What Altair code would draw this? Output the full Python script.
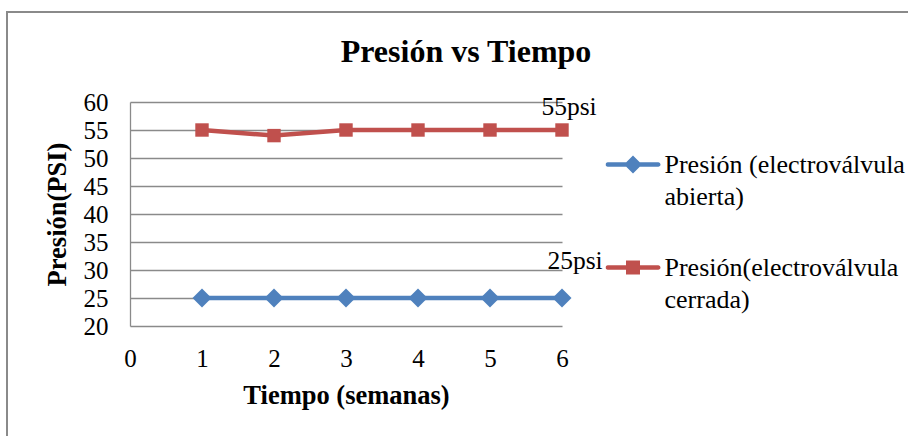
import altair as alt
import pandas as pd

# Datos de presión medidos cada semana
semanas = [1, 2, 3, 4, 5, 6]
presion_abierta = [25, 25, 25, 25, 25, 25]
presion_cerrada = [55, 54, 55, 55, 55, 55]
series = ["Presión (electroválvula abierta)", "Presión(electroválvula cerrada)"]
colores = ["#4F81BD", "#C0504D"]
etiquetas = ["25psi", "55psi"]
y_ticks = [20, 25, 30, 35, 40, 45, 50, 55, 60]
x_ticks = [0, 1, 2, 3, 4, 5, 6]

FUENTE = "Liberation Serif"
GRIS = "#8a8a8a"

datos = pd.DataFrame({
    "semana": semanas * 2,
    "presion": presion_abierta + presion_cerrada,
    "serie": [series[0]] * len(semanas) + [series[1]] * len(semanas),
})
ultimos = pd.DataFrame({
    "semana": [semanas[-1], semanas[-1]],
    "presion": [presion_abierta[-1], presion_cerrada[-1]],
    "texto": etiquetas,
    "serie": series,
})
marco = pd.DataFrame({"marco": [0]})

# Símbolos de la leyenda: trazo horizontal con su marcador en el centro
R = 27.5  # medio ancho del símbolo en px (symbolSize = (2R)^2)


def u(px):
    return round(px / R, 4)


t = u(2.3)
trazo = (f"M{-1 + t},{-t} L{1 - t},{-t} A{t},{t} 0 0 1 {1 - t},{t} "
         f"L{-1 + t},{t} A{t},{t} 0 0 1 {-1 + t},{-t} Z")
d = u(9)
s = u(7)
simbolo_rombo = trazo + f" M0,{-d} L{d},0 L0,{d} L{-d},0 Z"
simbolo_cuadro = trazo + f" M{-s},{-s} L{s},{-s} L{s},{s} L{-s},{s} Z"

x_enc = alt.X(
    "semana:Q",
    scale=alt.Scale(domain=[0, 6], nice=False, zero=False),
    axis=alt.Axis(
        values=x_ticks, format="d", grid=False, domain=False, ticks=False, tickSize=0,
        labelFont=FUENTE, labelFontSize=25, labelColor="black",
        labelPadding=20, labelFlush=False, labelOverlap=False,
        title="Tiempo (semanas)", titleFont=FUENTE, titleFontSize=26.5,
        titleFontWeight="bold", titleColor="black",
        titleBaseline="alphabetic", titleY=77, titleX=216, titleAlign="center",
    ),
)
y_enc = alt.Y(
    "presion:Q",
    scale=alt.Scale(domain=[20, 60], nice=False, zero=False),
    axis=alt.Axis(
        values=y_ticks, format="d", grid=True, gridColor=GRIS, gridWidth=1.3,
        domain=True, domainColor=GRIS, domainWidth=1.3,
        ticks=False, tickSize=0, labelOverlap=False,
        labelFont=FUENTE, labelFontSize=25, labelColor="black", labelPadding=22,
        title="Presión(PSI)", titleFont=FUENTE, titleFontSize=26.5,
        titleFontWeight="bold", titleColor="black",
        titleBaseline="alphabetic", titleX=-65, titleY=112, titleAlign="center",
    ),
)

base = alt.Chart(datos)

lineas = base.mark_line(strokeWidth=4.5).encode(
    x=x_enc, y=y_enc,
    stroke=alt.Stroke("serie:N", scale=alt.Scale(domain=series, range=colores), legend=None),
)

rombos = base.transform_filter(alt.datum.serie == series[0]).mark_point(
    shape="diamond", size=361, filled=True, color=colores[0], opacity=1
).encode(x=x_enc, y=y_enc)

cuadros = base.transform_filter(alt.datum.serie == series[1]).mark_point(
    shape="square", size=180, filled=True, color=colores[1], opacity=1
).encode(x=x_enc, y=y_enc)

txt = alt.Chart(ultimos)
etiqueta_abierta = txt.transform_filter(alt.datum.serie == series[0]).mark_text(
    font=FUENTE, fontSize=25.5, color="black", align="center", baseline="alphabetic",
    dx=13, dy=-29,
).encode(x=x_enc, y=y_enc, text="texto:N")
etiqueta_cerrada = txt.transform_filter(alt.datum.serie == series[1]).mark_text(
    font=FUENTE, fontSize=25.5, color="black", align="center", baseline="alphabetic",
    dx=7, dy=-15,
).encode(x=x_enc, y=y_enc, text="texto:N")

leyenda = alt.Legend(
    title=None, orient="none", legendX=475.5, legendY=11, padding=0,
    rowPadding=0, clipHeight=103, symbolSize=3025, symbolStrokeWidth=0,
    symbolOpacity=1, labelFont=FUENTE, labelFontSize=26, labelColor="black",
    labelOffset=4, labelLimit=600, labelBaseline="middle", direction="vertical",
    labelExpr="[slice(datum.label, 0, lastindexof(datum.label, ' ')), "
              "slice(datum.label, lastindexof(datum.label, ' ') + 1)]",
)
portador_leyenda = base.transform_filter("false").mark_point(filled=True).encode(
    x=x_enc, y=y_enc,
    color=alt.Color("serie:N", scale=alt.Scale(domain=series, range=colores), legend=leyenda),
    shape=alt.Shape("serie:N", scale=alt.Scale(domain=series, range=[simbolo_rombo, simbolo_cuadro]),
                    legend=leyenda),
)

borde = alt.Chart(marco).mark_rect(filled=False, stroke=GRIS, strokeWidth=2).encode(
    x=alt.value(-123), y=alt.value(-90), x2=alt.value(900), y2=alt.value(420),
)

chart = alt.layer(
    borde, portador_leyenda, lineas, rombos, cuadros, etiqueta_abierta, etiqueta_cerrada
).properties(
    width=432, height=224,
    title=alt.TitleParams(
        "Presión vs Tiempo", font=FUENTE, fontSize=32, fontWeight="bold", color="black",
        anchor="middle", frame="group", dx=120, dy=111, baseline="alphabetic", offset=28,
    ),
    autosize=alt.AutoSizeParams(type="none"),
    padding={"left": 130, "top": 102, "right": 346, "bottom": 110},
).configure(
    background="white",
    style={"guide-label": {"font": FUENTE, "fill": "black", "lineHeight": 32}},
).configure_view(stroke="transparent")

chart.save("out.html", embed_options={"renderer": "svg", "actions": False})
